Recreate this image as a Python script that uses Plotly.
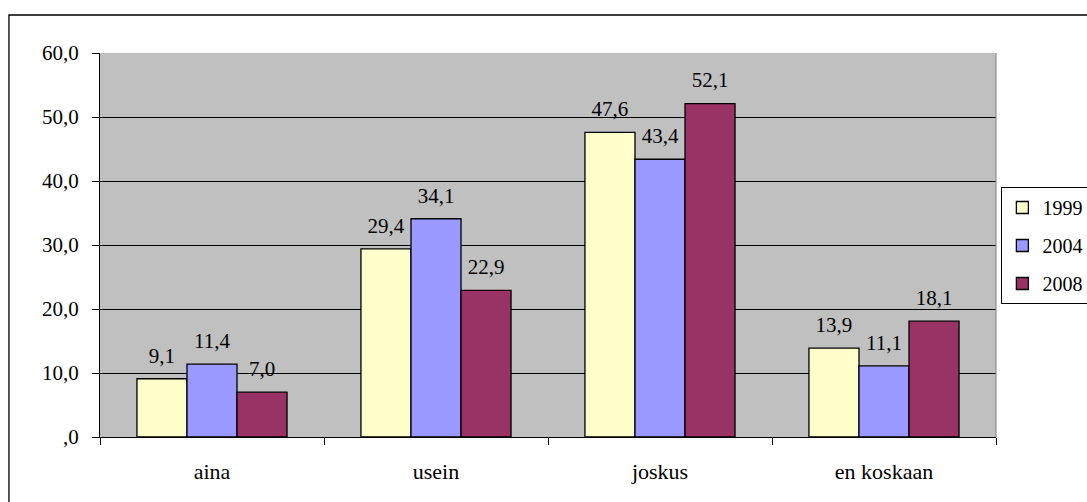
import plotly.graph_objects as go

categories = ["aina", "usein", "joskus", "en koskaan"]
years = ["1999", "2004", "2008"]
values_1999 = [9.1, 29.4, 47.6, 13.9]
values_2004 = [11.4, 34.1, 43.4, 11.1]
values_2008 = [7.0, 22.9, 52.1, 18.1]
series = [values_1999, values_2004, values_2008]
colors = ["#FFFFCC", "#9999FF", "#993366"]
ytick_vals = [0, 10, 20, 30, 40, 50, 60]
ytick_text = [",0", "10,0", "20,0", "30,0", "40,0", "50,0", "60,0"]

font = "Times New Roman, Liberation Serif, DejaVu Serif, serif"

fig = go.Figure()
for i, (yr, vals, col) in enumerate(zip(years, series, colors)):
    fig.add_trace(go.Bar(
        x=categories, y=vals, name=yr,
        marker=dict(color=col, line=dict(color="black", width=1.3)),
        offsetgroup=yr, legendgroup=yr,
    ))
for i, (yr, vals) in enumerate(zip(years, series)):
    fig.add_trace(go.Scatter(
        x=categories, y=vals, mode="markers+text",
        marker=dict(size=16, color="rgba(0,0,0,0)"),
        texttemplate="%{y:.1f}", textposition="top center",
        textfont=dict(family=font, size=21, color="black"),
        offsetgroup=yr, showlegend=False, cliponaxis=False, hoverinfo="skip",
    ))

fig.update_layout(
    width=1087, height=502,
    margin=dict(l=100, r=91, t=53, b=65, autoexpand=False),
    paper_bgcolor="white",
    plot_bgcolor="#C0C0C0",
    barmode="group",
    bargap=0.33,
    bargroupgap=0,
    scattermode="group",
    scattergap=0.33,
    separators=", ",
    font=dict(family=font, size=20, color="black"),
    legend=dict(
        x=1.006, y=0.651, xanchor="left", yanchor="top",
        bordercolor="black", borderwidth=1,
        font=dict(family=font, size=20),
        tracegroupgap=9,
        traceorder="grouped",
        itemwidth=30,
    ),
    shapes=[dict(
        type="rect", xref="paper", yref="paper",
        x0=-0.1016, x1=1.11, y0=-0.2, y1=1.099,
        line=dict(color="black", width=1.3), fillcolor="rgba(0,0,0,0)",
        layer="below",
    )],
)
fig.update_xaxes(
    showline=True, linecolor="black", linewidth=1,
    ticks="outside", tickson="boundaries", ticklen=7, tickcolor="black",
    ticklabelstandoff=15,
    tickfont=dict(family=font, size=22),
    mirror=False,
)
fig.update_yaxes(
    range=[0, 60], tickvals=ytick_vals, ticktext=ytick_text,
    showgrid=True, gridcolor="black", gridwidth=1,
    showline=True, linecolor="black", linewidth=1,
    ticks="outside", ticklen=7, tickcolor="black",
    ticklabelstandoff=9,
    tickfont=dict(family=font, size=21),
    zeroline=False,
)
fig.add_shape(type="line", xref="paper", yref="paper", x0=1, x1=1, y0=0, y1=1,
              line=dict(color="#808080", width=1))

fig.write_html("out.html")
